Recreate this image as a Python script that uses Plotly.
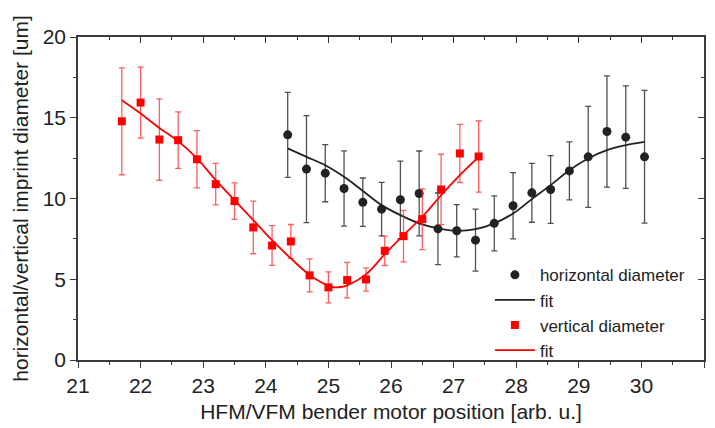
import plotly.graph_objects as go

# ---- data ----
horiz_x = [24.35, 24.65, 24.95, 25.25, 25.55, 25.85, 26.15, 26.45, 26.75, 27.05,
           27.35, 27.65, 27.95, 28.25, 28.55, 28.85, 29.15, 29.45, 29.75, 30.05]
horiz_y = [13.94, 11.82, 11.57, 10.62, 9.77, 9.34, 9.92, 10.31, 8.12, 8.00,
           7.42, 8.46, 9.55, 10.35, 10.56, 11.71, 12.58, 14.15, 13.80, 12.58]
horiz_err = [2.63, 3.31, 1.77, 2.33, 1.50, 1.66, 2.40, 2.63, 2.22, 1.62,
             1.92, 1.70, 2.05, 1.82, 2.10, 1.80, 3.13, 3.44, 3.17, 4.11]

horiz_fit_x = [24.35, 24.65, 24.95, 25.25, 25.55, 25.85, 26.15, 26.45, 26.75, 27.05,
               27.35, 27.65, 27.95, 28.25, 28.55, 28.85, 29.15, 29.45, 29.75, 30.05]
horiz_fit_y = [13.10, 12.58, 12.06, 11.34, 10.47, 9.59, 8.97, 8.46, 8.15, 8.00,
               8.10, 8.46, 9.07, 9.96, 10.83, 11.75, 12.48, 12.99, 13.30, 13.50]

vert_x = [21.7, 22.0, 22.3, 22.6, 22.9, 23.2, 23.5, 23.8, 24.1, 24.4,
          24.7, 25.0, 25.3, 25.6, 25.9, 26.2, 26.5, 26.8, 27.1, 27.4]
vert_y = [14.78, 15.94, 13.65, 13.61, 12.43, 10.89, 9.84, 8.21, 7.09, 7.34,
          5.24, 4.50, 4.95, 4.99, 6.76, 7.67, 8.72, 10.56, 12.79, 12.60]
vert_err = [3.31, 2.20, 2.52, 1.75, 1.77, 1.28, 1.13, 1.63, 1.23, 1.05,
            1.02, 0.96, 1.10, 0.72, 0.91, 1.60, 1.88, 2.18, 1.80, 2.20]

vert_fit_x = [21.7, 22.0, 22.3, 22.6, 22.9, 23.2, 23.5, 23.8, 24.1, 24.4, 24.7,
              24.9, 25.0, 25.1, 25.2, 25.3, 25.6, 25.9, 26.2, 26.5, 26.8, 27.1, 27.4]
vert_fit_y = [16.08, 15.26, 14.37, 13.55, 12.48, 11.14, 9.90, 8.66, 7.42, 6.29, 5.26,
              4.78, 4.58, 4.50, 4.52, 4.62, 5.30, 6.55, 7.73, 8.87, 10.20, 11.45, 12.58]

x_range = [21, 31]
y_range = [0, 20]
x_title = "HFM/VFM bender motor position [arb. u.]"
y_title = "horizontal/vertical imprint diameter [um]"

FONT = "Liberation Sans, Arial, sans-serif"
AX = "#3a3a3a"
TXT = "#222222"

fig = go.Figure()

fig.add_trace(go.Scatter(
    x=horiz_x, y=horiz_y, mode="markers", name="horizontal diameter",
    marker=dict(symbol="circle", size=9, color="#222222"),
    error_y=dict(type="data", array=horiz_err, visible=True,
                 color="#505050", thickness=1.3, width=3),
))
fig.add_trace(go.Scatter(
    x=horiz_fit_x, y=horiz_fit_y, mode="lines", name="fit",
    line=dict(color="#222222", width=1.8, shape="spline"),
))
fig.add_trace(go.Scatter(
    x=vert_x, y=vert_y, mode="markers", name="vertical diameter",
    marker=dict(symbol="square", size=8, color="#ff0000"),
    error_y=dict(type="data", array=vert_err, visible=True,
                 color="rgba(255,40,40,0.75)", thickness=1.3, width=3),
))
fig.add_trace(go.Scatter(
    x=vert_fit_x, y=vert_fit_y, mode="lines", name="fit",
    line=dict(color="#ff0000", width=1.8, shape="spline"),
))
# dummy trace so the mirrored (top/right) axes are drawn
fig.add_trace(go.Scatter(x=[None], y=[None], xaxis="x2", yaxis="y2",
                         showlegend=False, hoverinfo="skip"))

common = dict(showgrid=False, zeroline=False, showline=True, linecolor=AX,
              linewidth=1.5, tickcolor=AX, tickwidth=1.3, automargin=False)

fig.update_layout(
    width=715, height=428,
    margin=dict(l=78, r=11, t=37, b=68),
    paper_bgcolor="white", plot_bgcolor="white",
    font=dict(family=FONT, size=21, color=TXT),
    showlegend=True,
    legend=dict(x=0.658, y=0.318, xanchor="left", yanchor="top",
                bgcolor="rgba(0,0,0,0)", font=dict(size=17, color=TXT),
                itemwidth=40, tracegroupgap=0),
    xaxis=dict(range=x_range, dtick=1, ticks="outside", ticklen=6,
               minor=dict(dtick=0.5, ticks="outside", ticklen=3, tickcolor=AX),
               title=dict(text=x_title, standoff=8, font=dict(size=21)),
               tickfont=dict(size=21), **common),
    yaxis=dict(range=y_range, dtick=5, ticks="outside", ticklen=6,
               minor=dict(dtick=2.5, ticks="outside", ticklen=3, tickcolor=AX),
               title=dict(text=y_title, standoff=8, font=dict(size=21)),
               tickfont=dict(size=21), **common),
    xaxis2=dict(range=x_range, overlaying="x", side="top", anchor="y2",
                dtick=1, ticks="inside", ticklen=6, showticklabels=False,
                minor=dict(dtick=0.5, ticks="inside", ticklen=3, tickcolor=AX),
                **common),
    yaxis2=dict(range=y_range, overlaying="y", side="right", anchor="x2",
                dtick=5, ticks="inside", ticklen=6, showticklabels=False,
                minor=dict(dtick=2.5, ticks="inside", ticklen=3, tickcolor=AX),
                **common),
)

fig.write_html("out.html")
